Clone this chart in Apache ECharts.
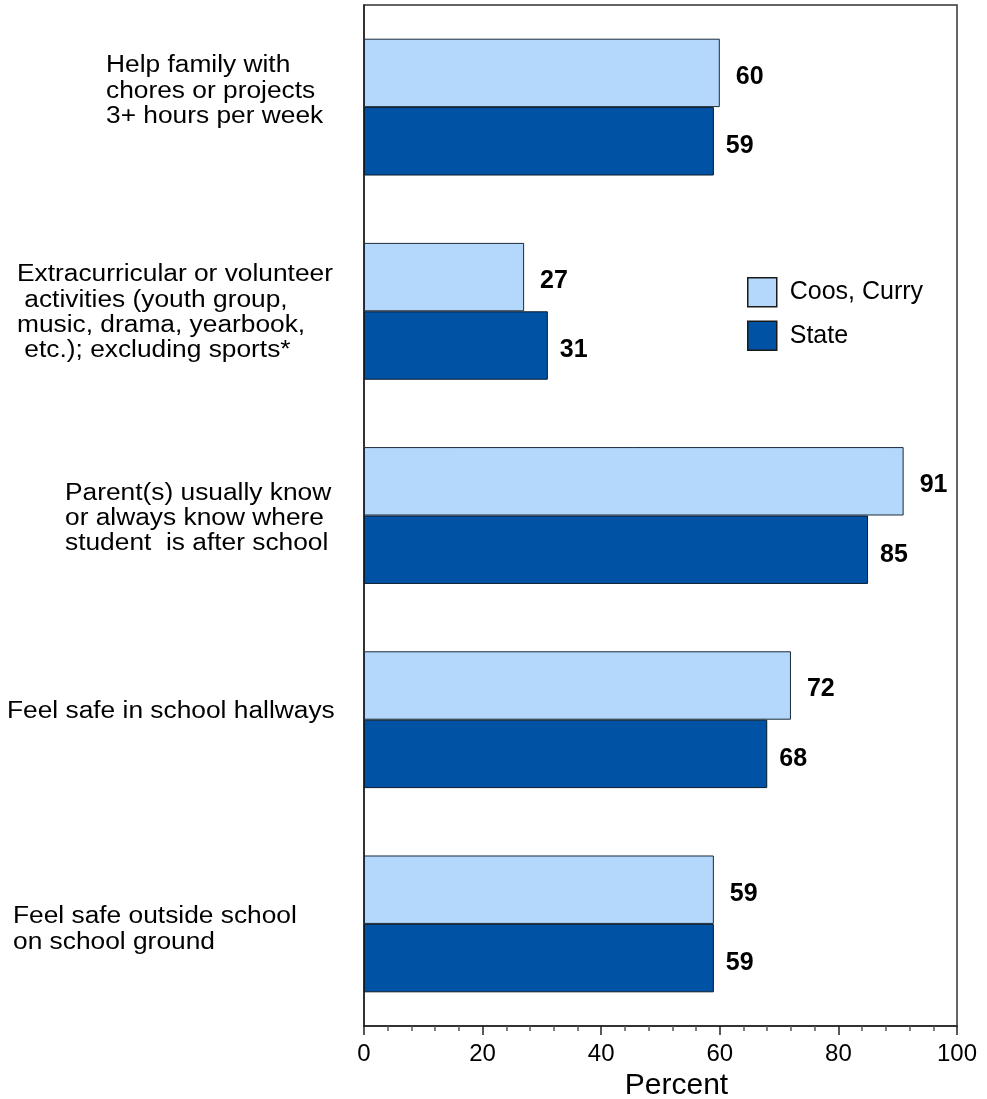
<!DOCTYPE html>
<html>
<head>
<meta charset="utf-8">
<script src="https://cdn.jsdelivr.net/npm/echarts@6/dist/echarts.min.js"></script>
<style>
html,body{margin:0;padding:0;background:#fff;}
#main{width:987px;height:1099px;}
</style>
</head>
<body>
<div id="main"></div>
<script>
var categories = [
  "Help family with\nchores or projects\n3+ hours per week",
  "Extracurricular or volunteer\n activities (youth group,\nmusic, drama, yearbook,\n etc.); excluding sports*",
  "Parent(s) usually know\nor always know where\nstudent  is after school",
  "Feel safe in school hallways",
  "Feel safe outside school\non school ground"
];
var coosCurry = [60, 27, 91, 72, 59];
var state = [59, 31, 85, 68, 59];
var seriesNames = ["Coos, Curry", "State"];
var xTicks = [0, 20, 40, 60, 80, 100];

// label layout (left x, vertical offset from category center)
var labelX = [106, 17, 65, 7, 13];
var labelDy = [-16, 1.5, 3, -8, 5.5];

var FONT = '"Liberation Sans", Arial, sans-serif';
var chart = echarts.init(document.getElementById('main'));
var option = {
  animation: false,
  backgroundColor: '#fff',
  grid: {left: 364, right: 30, top: 5, bottom: 73, containLabel: false, outerBoundsMode: 'none',
    show: true, borderColor: '#333', borderWidth: 1.5},
  legend: {
    left: 747, top: 277, padding: 0, orient: 'vertical', itemWidth: 29, itemHeight: 29, itemGap: 13,
    icon: 'rect',
    itemStyle: {borderColor: '#1a1a1a', borderWidth: 1.5},
    textStyle: {fontSize: 25, fontFamily: FONT, color: '#000', padding: [0,0,0,8]},
    data: seriesNames
  },
  xAxis: {
    type: 'value', min: 0, max: 100, interval: 20,
    name: 'Percent', nameLocation: 'middle', nameGap: 43,
    nameTextStyle: {fontSize: 30, fontFamily: FONT, color: '#000', padding: [0,0,0,32]},
    axisLine: {show: true, lineStyle: {color: '#222', width: 1.5}},
    axisTick: {show: true, length: 9, lineStyle: {color: '#222', width: 1.5}},
    minorTick: {show: true, splitNumber: 5, length: 5, lineStyle: {color: '#555', width: 1.5}},
    splitLine: {show: false},
    axisLabel: {fontSize: 24, fontFamily: FONT, color: '#000', margin: 16,
      formatter: function(v){ return xTicks.indexOf(v) >= 0 ? String(v) : ''; }}
  },
  yAxis: {
    type: 'category', data: categories, inverse: true,
    axisLine: {show: true, lineStyle: {color: '#222', width: 1.5}},
    axisTick: {show: false},
    axisLabel: {show: false}
  },
  series: [
    {
      name: seriesNames[0], type: 'bar', data: coosCurry,
      barCategoryGap: '33%', barGap: '0%',
      itemStyle: {color: '#B4D8FC', borderColor: '#1a2a3a', borderWidth: 1},
      label: {show: true, position: 'right', distance: 16, offset: [0, 4], fontSize: 25, fontWeight: 'bold', fontFamily: FONT, color: '#000'}
    },
    {
      name: seriesNames[1], type: 'bar', data: state,
      barCategoryGap: '33%', barGap: '0%',
      itemStyle: {color: '#0052A5', borderColor: '#0a1a2a', borderWidth: 1},
      label: {show: true, position: 'right', distance: 12, offset: [0, 5], fontSize: 25, fontWeight: 'bold', fontFamily: FONT, color: '#000'}
    }
  ]
};
chart.setOption(option);

chart.setOption({graphic: categories.map(function(c, i){
  var y = chart.convertToPixel({yAxisIndex: 0}, i);
  return {type: 'text', x: labelX[i], y: y + labelDy[i], scaleX: 1.12, scaleY: 1, silent: true,
    style: {text: c, font: '23.5px ' + FONT, fill: '#000', lineHeight: 25.3, verticalAlign: 'middle', align: 'left'}};
})});
</script>
</body>
</html>
